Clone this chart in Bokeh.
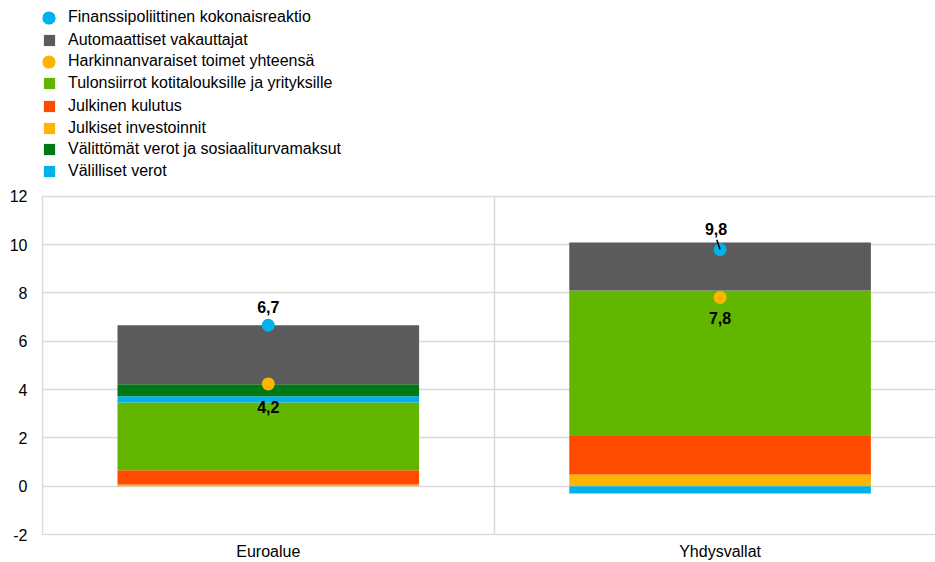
import numpy as np
from bokeh.plotting import figure
from bokeh.models import ColumnDataSource, Legend, LegendItem, FixedTicker, Range1d
from bokeh.core.properties import value
from bokeh.embed import file_html
from bokeh.resources import INLINE

# ---- data ----
regions = ["Euroalue", "Yhdysvallat"]
investoinnit = [0.07, 0.48]        # Julkiset investoinnit
kulutus = [0.59, 1.60]             # Julkinen kulutus
tulonsiirrot = [2.80, 6.02]        # Tulonsiirrot kotitalouksille ja yrityksille
valilliset = [0.26, -0.30]         # Välilliset verot
valittomat = [0.50, 0.00]          # Välittömät verot ja sosiaaliturvamaksut
automaattiset = [2.44, 1.98]       # Automaattiset vakauttajat
kokonaisreaktio = [6.66, 9.79]     # Finanssipoliittinen kokonaisreaktio
harkinnanvaraiset = [4.23, 7.81]   # Harkinnanvaraiset toimet yhteensä
y_ticks = [-2, 0, 2, 4, 6, 8, 10, 12]

FONT = "Liberation Sans"
FS = "16px"

components = [
    ("Julkiset investoinnit", investoinnit, "#ffb400"),
    ("Julkinen kulutus", kulutus, "#ff4b00"),
    ("Tulonsiirrot kotitalouksille ja yrityksille", tulonsiirrot, "#63b600"),
    ("Välilliset verot", valilliset, "#00b1ea"),
    ("Välittömät verot ja sosiaaliturvamaksut", valittomat, "#007816"),
    ("Automaattiset vakauttajat", automaattiset, "#5b5b5b"),
]

xpos = [i + 0.5 for i in range(len(regions))]

# layout geometry (pixels)
FRAME_BOTTOM = 535          # frame spans from the top of the page to here
PX_PER_UNIT = 338.3 / 14    # vertical scale of the value axis
y_lo = y_ticks[0] - 1 / PX_PER_UNIT
y_hi = y_lo + FRAME_BOTTOM / PX_PER_UNIT

p = figure(width=935, height=562,
           x_range=Range1d(-0.002, 1.9768), y_range=Range1d(y_lo, y_hi),
           output_backend="svg", toolbar_location=None,
           min_border_left=41, min_border_right=0,
           min_border_top=0, min_border_bottom=562 - FRAME_BOTTOM)
p.outline_line_color = None
p.background_fill_color = "white"

# grid
p.ygrid.ticker = FixedTicker(ticks=y_ticks)
p.xgrid.ticker = FixedTicker(ticks=[0, 1])
p.xgrid.cross_bounds = (y_ticks[0], y_ticks[-1])
for g in (p.xgrid, p.ygrid):
    g.grid_line_color = "#d9d9d9"
    g.grid_line_width = 1.5

# axes
p.yaxis.ticker = FixedTicker(ticks=y_ticks)
p.yaxis.major_label_overrides = {t: str(t) for t in y_ticks}
p.xaxis.ticker = FixedTicker(ticks=xpos)
p.xaxis.major_label_overrides = dict(zip(xpos, regions))
for ax in (p.xaxis, p.yaxis):
    ax.axis_line_color = None
    ax.major_tick_line_color = None
    ax.minor_tick_line_color = None
    ax.major_tick_out = 0
    ax.major_tick_in = 0
    ax.major_label_text_font = FONT
    ax.major_label_text_font_size = FS
    ax.major_label_text_color = "#000000"
p.yaxis.major_label_standoff = 14
p.xaxis.major_label_standoff = 7

# stacked bars (positives and negatives stacked separately)
renderers = {}
pos = np.zeros(len(regions))
neg = np.zeros(len(regions))
for name, vals, color in components:
    v = np.array(vals, dtype=float)
    bottom = np.where(v >= 0, pos, neg)
    top = bottom + v
    pos = np.where(v >= 0, top, pos)
    neg = np.where(v < 0, top, neg)
    src = ColumnDataSource(dict(x=xpos, bottom=bottom, top=top))
    renderers[name] = p.vbar(x="x", bottom="bottom", top="top", width=0.6676,
                             source=src, fill_color=color, line_color=None)

# dots
r_tot = p.scatter(xpos, kokonaisreaktio, size=13, fill_color="#00b1ea", line_color=None)
r_disc = p.scatter(xpos, harkinnanvaraiset, size=13, fill_color="#ffb400", line_color=None)

# leader line for the US total label
p.segment(x0=[xpos[1] - 0.0073], y0=[kokonaisreaktio[1] + 0.41],
          x1=[xpos[1]], y1=[kokonaisreaktio[1]],
          line_color="black", line_width=1.5)

def fmt(v):
    return f"{v:.1f}".replace(".", ",")

lab = ColumnDataSource(dict(
    x=xpos + xpos,
    y=kokonaisreaktio + harkinnanvaraiset,
    text=[fmt(v) for v in kokonaisreaktio + harkinnanvaraiset],
    xo=[0, -4, 0, 0],
    yo=[-18, -21, 23, 21],
))
p.text(x="x", y="y", text="text", x_offset="xo", y_offset="yo", source=lab,
       text_font=value(FONT), text_font_style="bold", text_font_size=FS,
       text_align="center", text_baseline="middle", text_color="#000000")

# legend: one legend per row so circles and squares can be sized independently
legend_rows = [
    ("Finanssipoliittinen kokonaisreaktio", r_tot, True),
    ("Automaattiset vakauttajat", renderers["Automaattiset vakauttajat"], False),
    ("Harkinnanvaraiset toimet yhteensä", r_disc, True),
    ("Tulonsiirrot kotitalouksille ja yrityksille", renderers["Tulonsiirrot kotitalouksille ja yrityksille"], False),
    ("Julkinen kulutus", renderers["Julkinen kulutus"], False),
    ("Julkiset investoinnit", renderers["Julkiset investoinnit"], False),
    ("Välittömät verot ja sosiaaliturvamaksut", renderers["Välittömät verot ja sosiaaliturvamaksut"], False),
    ("Välilliset verot", renderers["Välilliset verot"], False),
]
row_centers = [17.3, 39, 61, 82, 104.5, 126.5, 148, 170]
for (label, rend, is_circle), yc in zip(legend_rows, row_centers):
    if is_circle:
        g = 33
        H = 33
        lg = Legend(items=[LegendItem(label=label, renderers=[rend])],
                    location=(-9, FRAME_BOTTOM - (yc + H / 2)),
                    glyph_width=g, glyph_height=g, label_height=g,
                    label_standoff=3)
    else:
        H = 18
        lg = Legend(items=[LegendItem(label=label, renderers=[rend])],
                    location=(1, FRAME_BOTTOM - (yc + 1 + H / 2)),
                    glyph_width=14, glyph_height=14, label_height=H,
                    label_standoff=12)
    lg.padding = 0
    lg.margin = 0
    lg.spacing = 0
    lg.border_line_color = None
    lg.background_fill_alpha = 0
    lg.label_text_font = FONT
    lg.label_text_font_size = FS
    lg.label_text_color = "#000000"
    p.add_layout(lg)

open("out.html", "w").write(file_html(p, INLINE))
